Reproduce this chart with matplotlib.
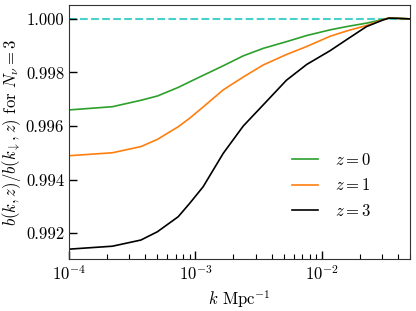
import matplotlib
matplotlib.use("Agg")
import matplotlib.pyplot as plt
import numpy as np
from matplotlib.ticker import FormatStrFormatter, FixedLocator

plt.rcParams['mathtext.fontset'] = 'cm'
plt.rcParams['font.family'] = 'serif'
plt.rcParams['font.serif'] = ['cmr10']
plt.rcParams['axes.formatter.use_mathtext'] = True

# k values (Mpc^-1) and bias ratios
k = [1e-4, 2.2e-4, 3.7e-4, 5e-4, 7.3e-4, 9e-4, 1.15e-3, 1.66e-3, 2.39e-3, 3.44e-3,
     5.25e-3, 7.6e-3, 1.16e-2, 1.6e-2, 2.25e-2, 3.05e-2, 3.4e-2, 4e-2, 5e-2]
b_z0 = [0.99660, 0.99672, 0.99696, 0.99712, 0.99744, 0.99765, 0.99789, 0.99825, 0.99862, 0.99890,
        0.99915, 0.99938, 0.99959, 0.99972, 0.99984, 0.99998, 1.00003, 1.00002, 1.00000]
b_z1 = [0.99489, 0.99500, 0.99523, 0.99550, 0.99597, 0.99629, 0.99671, 0.99735, 0.99783, 0.99828,
        0.99867, 0.99897, 0.99935, 0.99956, 0.99975, 0.99997, 1.00003, 1.00002, 1.00000]
b_z3 = [0.99140, 0.99151, 0.99174, 0.99205, 0.99261, 0.99311, 0.99373, 0.99498, 0.99600, 0.99679,
        0.99771, 0.99830, 0.99881, 0.99925, 0.99971, 0.99996, 1.00003, 1.00002, 1.00000]

labels = [r'$z=0$', r'$z=1$', r'$z=3$']
colors = ['#2ca02c', '#ff7f0e', 'black']

fig = plt.figure(figsize=(4.16, 3.11), dpi=100)
ax = fig.add_axes([0.166, 0.167, 0.82, 0.817])

ax.axhline(1.0, color='#48d1cc', ls='--', lw=1.5, zorder=1)
for b, lab, c in zip([b_z0, b_z1, b_z3], labels, colors):
    ax.plot(k, b, color=c, lw=1.2, label=lab)

ax.set_xscale('log')
ax.set_xlim(1e-4, 5e-2)
ax.set_ylim(0.99103, 1.00052)
ax.yaxis.set_major_locator(FixedLocator([0.992, 0.994, 0.996, 0.998, 1.000]))
ax.yaxis.set_major_formatter(FormatStrFormatter('%.3f'))

ax.tick_params(which='both', direction='in', labelsize=12)
ax.tick_params(which='major', length=6, width=1)
ax.tick_params(which='minor', length=3.5, width=0.8)
ax.tick_params(axis='y', which='minor', left=False)
for s in ax.spines.values():
    s.set_color('#333333')

ax.set_xlabel(r'$k$ Mpc$^{-1}$', fontsize=12)
ax.set_ylabel(r'$b(k,z)/b(k_\downarrow,z)$ for $N_\nu=3$', fontsize=12, labelpad=2)

ax.legend(loc='lower right', frameon=False, fontsize=12, bbox_to_anchor=(0.93, 0.1),
          handlelength=1.6, handletextpad=1.0, labelspacing=0.55)

fig.savefig('out.png', dpi=100)
